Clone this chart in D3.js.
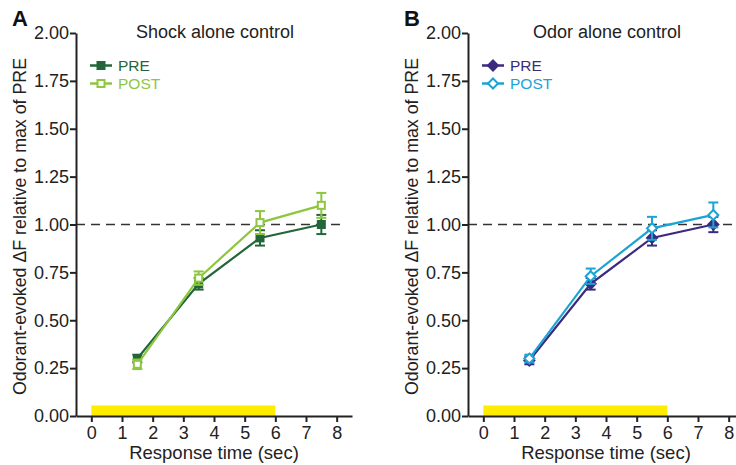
<!DOCTYPE html>
<meta charset="utf-8">
<style>
body { margin: 0; background: #fff; }
text { font-family: "Liberation Sans", Arial, Helvetica, sans-serif; fill: #222; }
.axis path, .axis line { stroke: #222; stroke-width: 2px; }
.axis text { font-size: 18px; fill: #222; font-family: "Liberation Sans", Arial, sans-serif; }
</style>
<svg width="736" height="465"></svg>
<script src="https://d3js.org/d3.v7.min.js"></script>
<script>

var times = [1.5, 3.5, 5.5, 7.5],
    xTicks = [0, 1, 2, 3, 4, 5, 6, 7, 8],
    yTicks = [0, 0.25, 0.5, 0.75, 1.0, 1.25, 1.5, 1.75, 2.0];

// panel A, shock alone control
var shockPre = [0.30, 0.69, 0.93, 1.00],
    shockPreErr = [0.02, 0.03, 0.04, 0.05],
    shockPost = [0.27, 0.72, 1.01, 1.10],
    shockPostErr = [0.025, 0.035, 0.06, 0.065];

// panel B, odor alone control
var odorPre = [0.29, 0.69, 0.93, 1.00],
    odorPreErr = [0.02, 0.03, 0.04, 0.04],
    odorPost = [0.30, 0.73, 0.98, 1.05],
    odorPostErr = [0.02, 0.04, 0.06, 0.065];

var stimulus = [0, 6];

var panels = [
  { letter: "A", title: "Shock alone control", left: 76, right: 352, dashEnd: 345,
    series: [
      { name: "PRE", values: shockPre, err: shockPreErr, color: "#23663a", shape: "square", open: false },
      { name: "POST", values: shockPost, err: shockPostErr, color: "#8dc63f", shape: "square", open: true }
    ] },
  { letter: "B", title: "Odor alone control", left: 468, right: 744, dashEnd: 736,
    series: [
      { name: "PRE", values: odorPre, err: odorPreErr, color: "#3b2a7e", shape: "diamond", open: false },
      { name: "POST", values: odorPost, err: odorPostErr, color: "#1ba3d6", shape: "diamond", open: true }
    ] }
];

var svg = d3.select("svg"),
    plotTop = 33, plotBottom = 416;

var y = d3.scaleLinear().domain([0, 2]).range([plotBottom, plotTop]);

panels.forEach(function(p) {
  var g = svg.append("g");
  var x = d3.scaleLinear().domain([-0.5, 8.5]).range([p.left, p.right]);

  // stimulus bar
  g.append("rect")
      .attr("x", x(stimulus[0]))
      .attr("width", x(stimulus[1]) - x(stimulus[0]))
      .attr("y", y(0.055))
      .attr("height", y(0) - y(0.055))
      .attr("fill", "#ffec00");

  // dashed reference line
  g.append("line")
      .attr("x1", p.left).attr("x2", p.dashEnd)
      .attr("y1", y(1)).attr("y2", y(1))
      .attr("stroke", "#333").attr("stroke-width", 1.5)
      .attr("stroke-dasharray", "9,6");

  g.append("g").attr("class", "axis")
      .attr("transform", "translate(0," + plotBottom + ")")
      .call(d3.axisBottom(x).tickValues(xTicks).tickSize(6).tickPadding(4).tickSizeOuter(0));

  g.append("g").attr("class", "axis")
      .attr("transform", "translate(" + p.left + ",0)")
      .call(d3.axisLeft(y).tickValues(yTicks).tickFormat(d3.format(".2f")).tickSize(6).tickPadding(1).tickSizeOuter(0));

  g.selectAll(".axis .domain").attr("stroke-width", 2.5);

  g.append("text")
      .attr("x", x(-0.5) - 64).attr("y", 26)
      .style("font-size", "22px").style("font-weight", "bold").style("fill", "#111")
      .text(p.letter);

  g.append("text")
      .attr("x", x(4) + 1).attr("y", 38)
      .attr("text-anchor", "middle").style("font-size", "18px")
      .text(p.title);

  g.append("text")
      .attr("x", x(4)).attr("y", 459)
      .attr("text-anchor", "middle").style("font-size", "18.5px")
      .text("Response time (sec)");

  g.append("text")
      .attr("transform", "translate(" + (p.left - 50) + "," + ((plotTop + plotBottom) / 2 + 2) + ") rotate(-90)")
      .attr("text-anchor", "middle").style("font-size", "17.8px")
      .text("Odorant-evoked \u0394F relative to max of PRE");

  var line = d3.line()
      .x(function(d, i) { return x(times[i]); })
      .y(function(d) { return y(d); });

  function marker(sel, s) {
    if (s.shape === "square") {
      sel.append("rect")
          .attr("x", -3.5).attr("y", -3.5).attr("width", 7).attr("height", 7);
    } else {
      sel.append("path").attr("d", "M0,-5L5,0L0,5L-5,0Z");
    }
    sel.selectAll("rect,path")
        .attr("fill", s.open ? "#fff" : s.color)
        .attr("stroke", s.color).attr("stroke-width", 2);
  }

  p.series.forEach(function(s, k) {
    var sg = g.append("g");
    sg.append("path")
        .datum(s.values)
        .attr("d", line)
        .attr("fill", "none").attr("stroke", s.color).attr("stroke-width", 2.2);

    var eb = sg.selectAll(".eb").data(s.values).enter().append("g");
    eb.append("line")
        .attr("x1", function(d, i) { return x(times[i]); })
        .attr("x2", function(d, i) { return x(times[i]); })
        .attr("y1", function(d, i) { return y(d - s.err[i]); })
        .attr("y2", function(d, i) { return y(d + s.err[i]); })
        .attr("stroke", s.color).attr("stroke-width", 2);
    [-1, 1].forEach(function(sign) {
      eb.append("line")
          .attr("x1", function(d, i) { return x(times[i]) - 5; })
          .attr("x2", function(d, i) { return x(times[i]) + 5; })
          .attr("y1", function(d, i) { return y(d + sign * s.err[i]); })
          .attr("y2", function(d, i) { return y(d + sign * s.err[i]); })
          .attr("stroke", s.color).attr("stroke-width", 2);
    });

    sg.selectAll(".pt").data(s.values).enter().append("g")
        .attr("transform", function(d, i) { return "translate(" + x(times[i]) + "," + y(d) + ")"; })
        .each(function() { marker(d3.select(this), s); });

    // legend
    var ly = 65.5 + k * 18;
    var lg = g.append("g").attr("transform", "translate(" + (p.left + 14) + "," + ly + ")");
    lg.append("line").attr("x1", 0).attr("x2", 22).attr("stroke", s.color).attr("stroke-width", 2.5);
    lg.append("g").attr("transform", "translate(11,0)").call(marker, s);
    lg.append("text")
        .attr("x", 28).attr("y", 5.5)
        .style("font-size", "15.5px").style("fill", s.color)
        .text(s.name);
  });
});

</script>
